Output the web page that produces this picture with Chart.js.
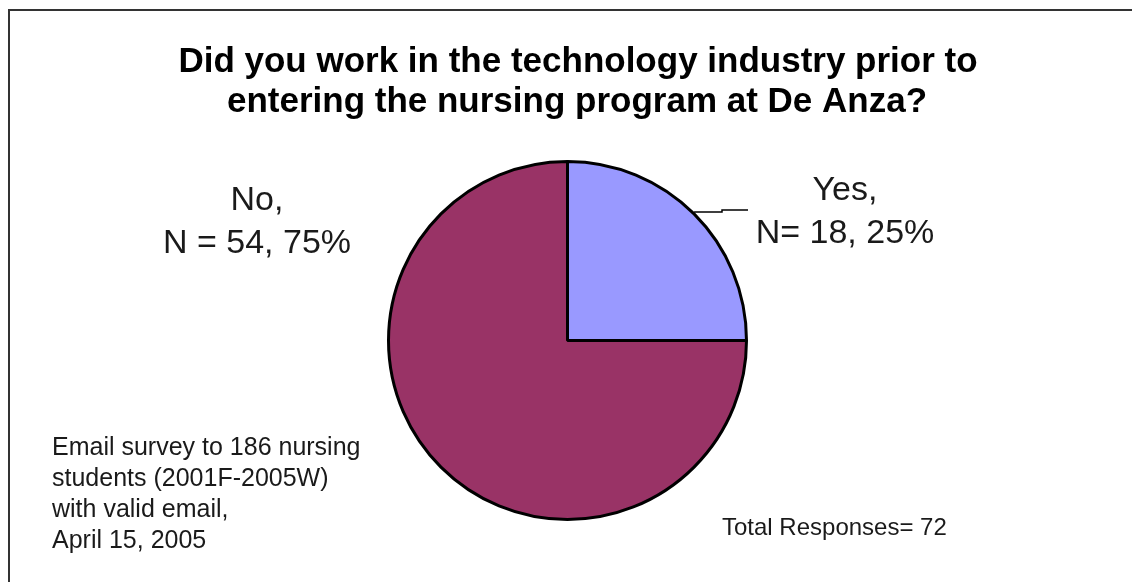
<!DOCTYPE html>
<html>
<head>
<meta charset="utf-8">
<script src="https://cdn.jsdelivr.net/npm/chart.js@4/dist/chart.umd.min.js"></script>
<style>
  html, body { margin: 0; padding: 0; background: #fff; }
  .chart-container { width: 1132px; height: 582px; position: relative; }
</style>
</head>
<body>
<div class="chart-container">
  <canvas id="pie"></canvas>
</div>
<script>
const categories = ['Yes', 'No'];
const responses = [18, 54];
const sliceColors = ['#9999FF', '#993366'];
const sliceLabels = [['Yes,', 'N= 18, 25%'], ['No,', 'N = 54, 75%']];
const titleLines = [
  'Did you work in the technology industry prior to',
  'entering the nursing program at De Anza?'
];
const noteLines = [
  'Email survey to 186 nursing',
  'students (2001F-2005W)',
  'with valid email,',
  'April 15, 2005'
];
const totalText = 'Total Responses= ' + responses.reduce((a, b) => a + b, 0);

// frame, title, notes and the slice labels
const decorations = {
  id: 'decorations',
  beforeDraw(chart) {
    const ctx = chart.ctx;
    ctx.save();
    ctx.fillStyle = '#fff';
    ctx.fillRect(0, 0, chart.width, chart.height);
    ctx.strokeStyle = '#333';
    ctx.lineWidth = 2;
    ctx.strokeRect(9, 10, chart.width + 20, chart.height + 20);
    ctx.restore();
  },
  afterDraw(chart) {
    const ctx = chart.ctx;
    ctx.save();
    ctx.fillStyle = '#000';
    ctx.textAlign = 'center';
    ctx.textBaseline = 'alphabetic';
    ctx.font = 'bold 35px "Liberation Sans", Arial, sans-serif';
    ctx.fillText(titleLines[0], 578, 72);
    ctx.fillText(titleLines[1], 577, 112);

    ctx.fillStyle = '#1a1a1a';
    ctx.font = '34px "Liberation Sans", Arial, sans-serif';
    // Yes label (right) and No label (left)
    ctx.fillText(sliceLabels[0][0], 845, 200);
    ctx.fillText(sliceLabels[0][1], 845, 243);
    ctx.fillText(sliceLabels[1][0], 257, 210);
    ctx.fillText(sliceLabels[1][1], 257, 253);

    // leader line from the Yes slice to its label
    const arc = chart.getDatasetMeta(0).data[0];
    const mid = (arc.startAngle + arc.endAngle) / 2;
    const sx = arc.x + Math.cos(mid) * arc.outerRadius;
    const sy = arc.y + Math.sin(mid) * arc.outerRadius;
    ctx.strokeStyle = '#000';
    ctx.lineWidth = 1.5;
    ctx.beginPath();
    ctx.moveTo(sx, sy - 2);
    ctx.lineTo(722, sy - 2);
    ctx.lineTo(722, sy - 4);
    ctx.lineTo(748, sy - 4);
    ctx.stroke();

    ctx.textAlign = 'left';
    ctx.font = '25px "Liberation Sans", Arial, sans-serif';
    noteLines.forEach((line, i) => ctx.fillText(line, 52, 455 + i * 31));
    ctx.font = '24px "Liberation Sans", Arial, sans-serif';
    ctx.fillText(totalText, 722, 535);
    ctx.restore();
  }
};

const canvas = document.getElementById('pie');
const chart = new Chart(canvas, {
  type: 'pie',
  data: {
    labels: categories,
    datasets: [{
      data: responses,
      backgroundColor: sliceColors,
      borderColor: '#000',
      borderWidth: 3
    }]
  },
  options: {
    animation: false,
    responsive: true,
    maintainAspectRatio: false,
    layout: {
      padding: { left: 387, top: 160, right: 384, bottom: 61 }
    },
    plugins: {
      legend: { display: false },
      tooltip: { enabled: false }
    }
  },
  plugins: [decorations]
});
</script>
</body>
</html>
